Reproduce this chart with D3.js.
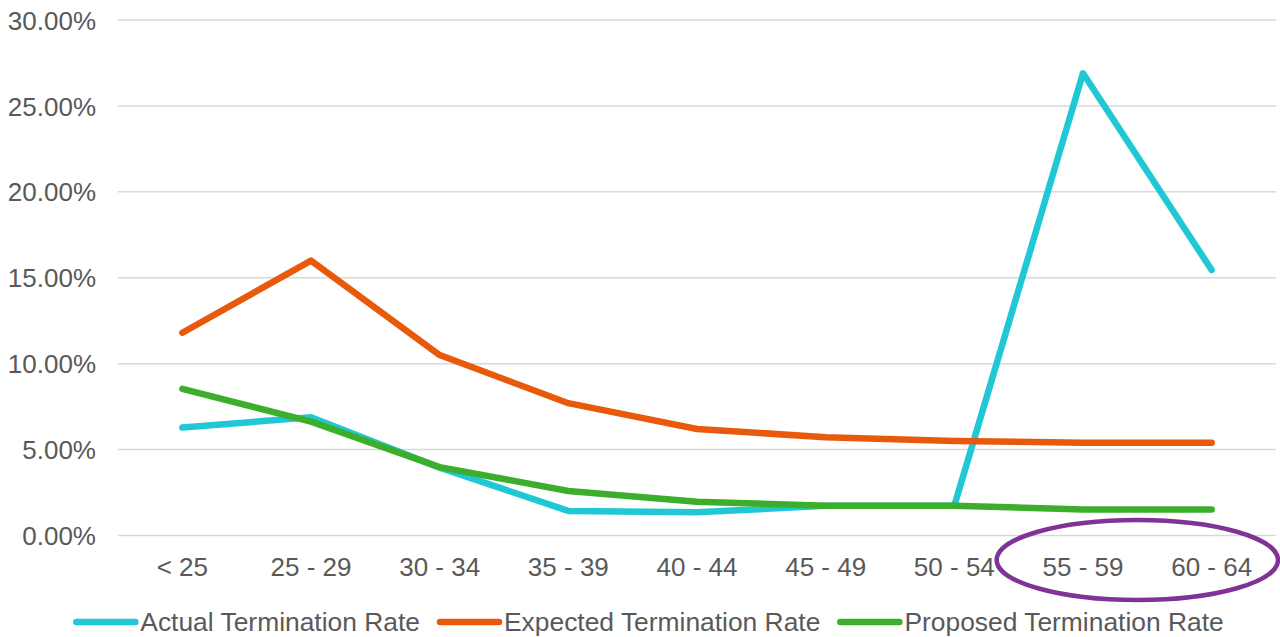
<!DOCTYPE html>
<html>
<head>
<meta charset="utf-8">
<script src="https://cdn.jsdelivr.net/npm/d3@7"></script>
<style>
  html, body { margin: 0; padding: 0; background: #fff; }
  svg { display: block; }
  text { font-family: "Liberation Sans", Arial, sans-serif; fill: #595959; }
</style>
</head>
<body>
<svg id="chart" width="1280" height="637"></svg>
<script>
// Age bands
const categories = ["< 25", "25 - 29", "30 - 34", "35 - 39", "40 - 44", "45 - 49", "50 - 54", "55 - 59", "60 - 64"];

// Termination rates (%) by age band
const actualRate   = [6.28, 6.88, 3.95, 1.43, 1.35, 1.73, 1.73, 26.9, 15.45];
const expectedRate = [11.8, 16.0, 10.5, 7.7, 6.2, 5.72, 5.5, 5.4, 5.4];
const proposedRate = [8.53, 6.63, 3.98, 2.59, 1.97, 1.73, 1.73, 1.52, 1.52];

const yTicks = [0, 5, 10, 15, 20, 25, 30];

const seriesNames  = ["Actual Termination Rate", "Expected Termination Rate", "Proposed Termination Rate"];
const seriesColors = ["#1fc8d4", "#e8590c", "#3dae2b"];
const seriesValues = [actualRate, expectedRate, proposedRate];

// Age bands singled out with an ellipse
const highlighted = ["55 - 59", "60 - 64"];

const svg = d3.select("#chart");

const x = d3.scaleBand().domain(categories).range([118, 1276]);
const y = d3.scaleLinear().domain([0, 30]).range([535.5, 20]);

// Horizontal gridlines
svg.append("g")
  .selectAll("line")
  .data(yTicks)
  .join("line")
  .attr("x1", x.range()[0])
  .attr("x2", x.range()[1])
  .attr("y1", d => y(d))
  .attr("y2", d => y(d))
  .attr("stroke", "#d9d9d9")
  .attr("stroke-width", 1.5);

// Y axis labels
const yAxis = d3.axisLeft(y)
  .tickValues(yTicks)
  .tickFormat(d => d.toFixed(2) + "%")
  .tickSize(0)
  .tickPadding(0);
const gy = svg.append("g").attr("transform", "translate(96,0)").call(yAxis);
gy.select(".domain").remove();
gy.selectAll("text")
  .attr("font-size", 26)
  .attr("font-family", "Liberation Sans, Arial, sans-serif")
  .attr("fill", "#595959")
  .attr("dy", "0.35em");

// X axis labels
const xAxis = d3.axisBottom(x).tickSize(0).tickPadding(0);
const gx = svg.append("g").attr("transform", "translate(0,567)").call(xAxis);
gx.select(".domain").remove();
gx.selectAll("text")
  .attr("font-size", 26)
  .attr("font-family", "Liberation Sans, Arial, sans-serif")
  .attr("fill", "#595959")
  .attr("y", 0)
  .attr("dy", "0.35em");

// Series lines
const line = d3.line()
  .x((d, i) => x(categories[i]) + x.bandwidth() / 2)
  .y(d => y(d));

svg.append("g")
  .selectAll("path")
  .data(seriesValues)
  .join("path")
  .attr("d", d => line(d))
  .attr("fill", "none")
  .attr("stroke", (d, i) => seriesColors[i])
  .attr("stroke-width", 6.5)
  .attr("stroke-linejoin", "round")
  .attr("stroke-linecap", "round");

// Legend
const legend = svg.append("g").attr("class", "legend");
const swatch = 59, swGap = 5, itemGap = 20;
const items = legend.selectAll("g")
  .data(seriesNames)
  .join("g");
items.append("line")
  .attr("x1", 0).attr("x2", swatch)
  .attr("y1", 0).attr("y2", 0)
  .attr("stroke", (d, i) => seriesColors[i])
  .attr("stroke-width", 6.5)
  .attr("stroke-linecap", "round");
items.append("text")
  .attr("x", swatch + swGap)
  .attr("dy", "0.35em")
  .attr("font-size", 26.4)
  .text(d => d);
let cursor = 0;
const offsets = [];
items.each(function () {
  offsets.push(cursor);
  const w = d3.select(this).select("text").node().getComputedTextLength();
  cursor += swatch + swGap + w + itemGap;
});
const totalW = cursor - itemGap;
const startX = 650 - totalW / 2;
items.attr("transform", (d, i) => `translate(${startX + offsets[i]},622)`);

// Ellipse around the highlighted age bands
const hx0 = x(highlighted[0]);
const hx1 = x(highlighted[highlighted.length - 1]) + x.bandwidth();
svg.append("ellipse")
  .attr("cx", (hx0 + hx1) / 2 - 10)
  .attr("cy", 560)
  .attr("rx", (hx1 - hx0) / 2 + 12)
  .attr("ry", 40)
  .attr("fill", "none")
  .attr("stroke", "#7f3396")
  .attr("stroke-width", 4.5);
</script>
</body>
</html>
